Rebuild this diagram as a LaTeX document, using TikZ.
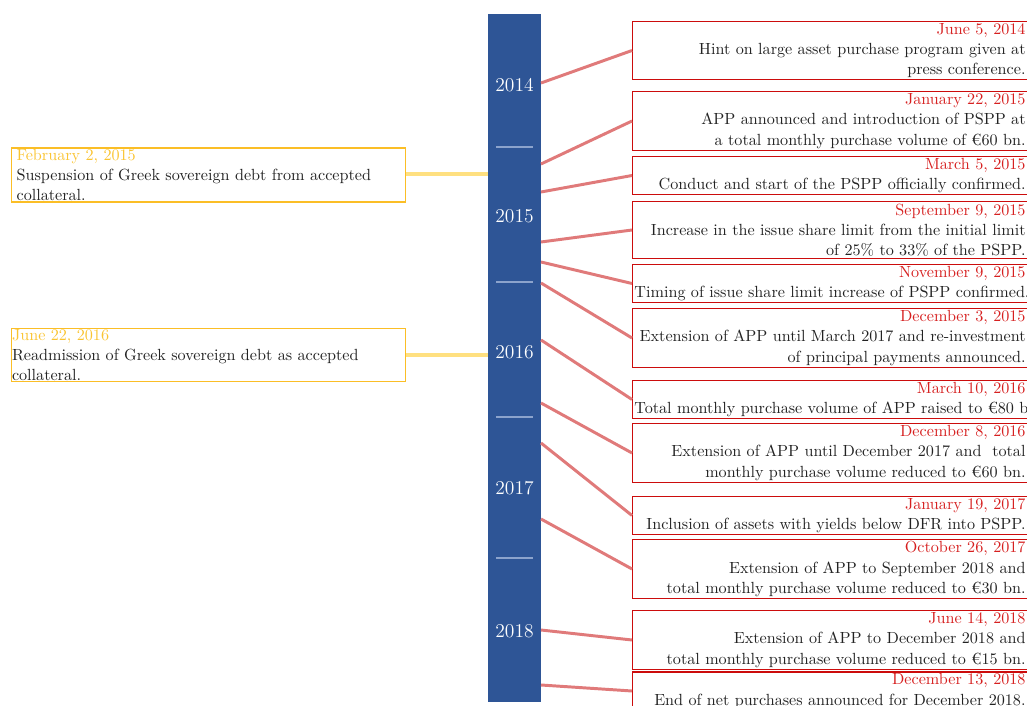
\documentclass[tikz,border=0pt]{standalone}
\usepackage{fontspec}
\usepackage{tikz}
\usetikzlibrary{positioning}
\setlength{\parindent}{0pt}

\definecolor{barblue}{RGB}{46,85,150}
\definecolor{tickblue}{RGB}{140,163,204}
\definecolor{eventred}{RGB}{204,12,12}
\definecolor{datered}{RGB}{214,32,32}
\definecolor{linkred}{RGB}{224,122,122}
\definecolor{eventyellow}{RGB}{251,190,38}
\definecolor{dateyellow}{RGB}{250,196,50}
\definecolor{linkyellow}{RGB}{255,224,128}
\definecolor{bodytext}{RGB}{34,34,34}

\newcommand{\ecbdate}[1]{\textcolor{datered}{#1}}
\newcommand{\govdate}[1]{\textcolor{dateyellow}{#1}}
\newcommand{\fullline}[1]{\hbox to \hsize{\hfil #1}}

\tikzset{
  timebar/.style={fill=barblue, minimum width=35.8pt, minimum height=464.4pt, inner sep=0pt},
  yearlabel/.style={text=white, font=\fontsize{13.2}{16}\selectfont, inner sep=0pt},
  yeartick/.style={draw=tickblue, line width=1.35pt},
  ecbevent/.style={draw=eventred, line width=0.7pt, anchor=west, text width=264pt,
    inner xsep=1.3pt, inner ysep=1.2pt, align=right, text=bodytext,
    font=\fontsize{10.9}{13.6}\selectfont},
  govevent/.style={draw=eventyellow, line width=0.75pt, anchor=west, text width=265.4pt,
    inner xsep=0.3pt, inner ysep=0.8pt, align=left, text=bodytext,
    font=\fontsize{10.9}{13.6}\selectfont},
  ecblink/.style={draw=linkred, line width=2pt},
  govlink/.style={draw=linkyellow, line width=2.8pt}
}

\begin{document}
\begin{tikzpicture}[x=0.675pt, y=-0.675pt]
  \useasboundingbox (0,0) rectangle (1027,706);

  % timeline bar
  \node[timebar] (bar) at (514.5,358) {};
  \foreach \ty in {147,282,417,558}
    \draw[yeartick] (496,\ty) -- (533,\ty);
  \foreach \yr/\ty in {2014/85,2015/216,2016/352,2017/488,2018/631}
    \node[yearlabel] (y\yr) at (514.5,\ty) {\yr};

  % ECB decisions
  \node[ecbevent] (e1) at (632,50.5) {\ecbdate{June 5, 2014}\\
    Hint on large asset purchase program given at\\ press conference.};
  \node[ecbevent] (e2) at (632,121) {\ecbdate{January 22, 2015}\\
    APP announced and introduction of PSPP at\\ a total monthly purchase volume of €60 bn.};
  \node[ecbevent] (e3) at (632,175.5) {\ecbdate{March 5, 2015}\\
    \fullline{Conduct and start of the PSPP officially confirmed.}};
  \node[ecbevent] (e4) at (632,230) {\ecbdate{September 9, 2015}\\
    Increase in the issue share limit from the initial limit\\ of 25\% to 33\% of the PSPP.};
  \node[ecbevent] (e5) at (632,283.5) {\ecbdate{November 9, 2015}\\
    \fullline{Timing of issue share limit increase of PSPP confirmed.}};
  \node[ecbevent] (e6) at (632,338) {\ecbdate{December 3, 2015}\\
    Extension of APP until March 2017 and re-investment\\ of principal payments announced.};
  \node[ecbevent] (e7) at (632,399.5) {\ecbdate{March 10, 2016}\\
    \fullline{Total monthly purchase volume of APP raised to €80 bn.}};
  \node[ecbevent] (e8) at (632,453) {\ecbdate{December 8, 2016}\\
    Extension of APP until December 2017 and \ total\\ monthly purchase volume reduced to €60 bn.};
  \node[ecbevent] (e9) at (632,515.5) {\ecbdate{January 19, 2017}\\
    \fullline{Inclusion of assets with yields below DFR into PSPP.}};
  \node[ecbevent] (e10) at (632,569) {\ecbdate{October 26, 2017}\\
    Extension of APP to September 2018 and\\ total monthly purchase volume reduced to €30 bn.};
  \node[ecbevent] (e11) at (632,640) {\ecbdate{June 14, 2018}\\
    Extension of APP to December 2018 and\\ total monthly purchase volume reduced to €15 bn.};
  \node[ecbevent] (e12) at (632,691) {\ecbdate{December 13, 2018}\\
    \fullline{End of net purchases announced for December 2018.}};

  % collateral decisions
  \node[govevent, inner xsep=3.4pt, text width=259pt] (g1) at (11,175) {\govdate{February 2, 2015}\\
    Suspension of Greek sovereign debt from accepted\\ collateral.};
  \node[govevent] (g2) at (11,355) {\govdate{June 22, 2016}\\
    Readmission of Greek sovereign debt as accepted\\ collateral.};

  % connectors
  \foreach \i/\ty in {1/83,2/164,3/192,4/242,5/262,6/283,7/340,8/403,9/443,10/519,11/630,12/685}
    \coordinate (t\i) at (541,\ty);
  \foreach \i in {1,...,12}
    \path[ecblink] (t\i) edge (e\i.west);
  \coordinate (s1) at (488,174);
  \coordinate (s2) at (488,355);
  \path[govlink]
    (g1.east |- s1) edge (s1)
    (g2.east |- s2) edge (s2);
\end{tikzpicture}
\end{document}
